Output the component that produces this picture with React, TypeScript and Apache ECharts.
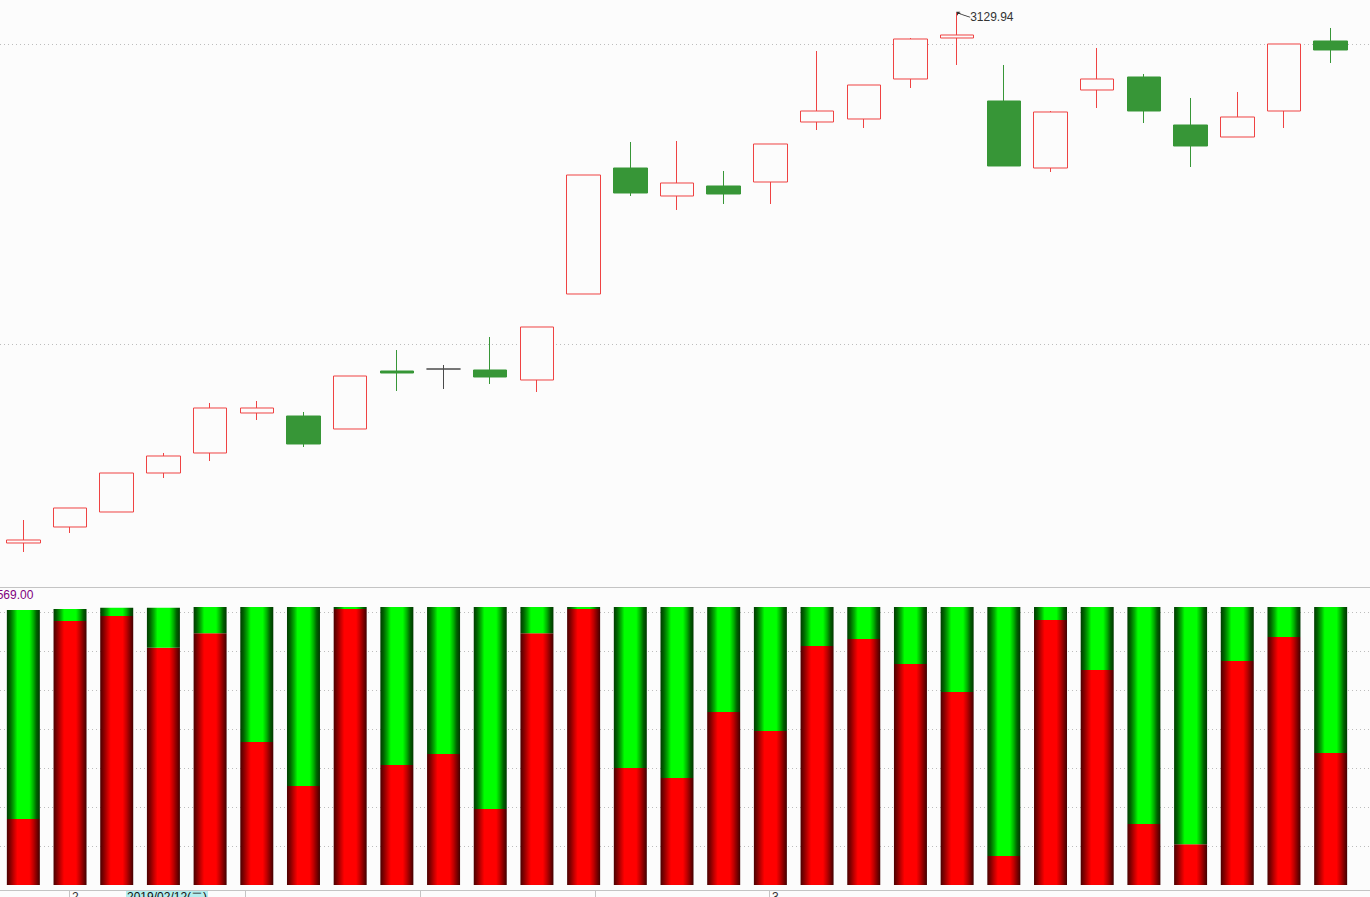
import React, { useEffect, useRef } from 'react';
import * as echarts from 'echarts';

const dates = [
  '2019/01/31', '2019/02/01', '2019/02/11', '2019/02/12', '2019/02/13', '2019/02/14', '2019/02/15',
  '2019/02/18', '2019/02/19', '2019/02/20', '2019/02/21', '2019/02/22', '2019/02/25', '2019/02/26',
  '2019/02/27', '2019/02/28', '2019/03/01', '2019/03/04', '2019/03/05', '2019/03/06', '2019/03/07',
  '2019/03/08', '2019/03/11', '2019/03/12', '2019/03/13', '2019/03/14', '2019/03/15', '2019/03/18',
  '2019/03/19',
];
const opens = [
  2581.47, 2598.02, 2613.53, 2653.86, 2674.55, 2715.92, 2712.81, 2699.37, 2759.35, 2761.42,
  2760.39, 2750.05, 2838.99, 2969.30, 2940.35, 2950.69, 2954.82, 3016.88, 3019.98, 3061.35,
  3103.75, 3038.60, 2969.30, 3049.97, 3063.42, 3013.78, 3001.36, 3028.25, 3100.65,
];
const closes = [
  2584.57, 2617.67, 2653.86, 2671.45, 2721.09, 2721.09, 2683.86, 2754.18, 2757.29, 2761.42,
  2753.15, 2804.86, 2962.06, 2943.45, 2953.79, 2942.41, 2994.13, 3028.25, 3055.14, 3102.72,
  3106.86, 2971.37, 3027.22, 3061.35, 3028.25, 2992.06, 3022.05, 3097.55, 3091.34,
];
const lows = [
  2572.16, 2591.81, 2613.53, 2648.69, 2666.27, 2708.68, 2680.75, 2699.37, 2738.67, 2740.74,
  2745.91, 2737.64, 2838.99, 2940.35, 2925.88, 2932.07, 2932.07, 3008.60, 3010.67, 3052.04,
  3075.83, 2971.37, 2965.17, 3031.36, 3015.84, 2970.34, 3001.36, 3010.67, 3077.90,
];
const highs = [
  2605.25, 2617.67, 2653.86, 2674.55, 2726.26, 2728.33, 2716.95, 2754.18, 2781.07, 2765.56,
  2794.52, 2804.86, 2962.06, 2996.19, 2997.23, 2966.20, 2994.13, 3090.31, 3055.14, 3103.75,
  3129.94, 3075.83, 3028.25, 3093.41, 3066.52, 3041.70, 3047.91, 3097.55, 3114.10,
];
// lower panel: share of red (bottom) and green (top) per day, in %
const redShare = [
  23.7, 95.0, 96.8, 85.3, 90.6, 51.4, 35.6, 99.3, 43.2, 47.1, 27.3, 90.6, 99.3, 42.1, 38.5,
  62.2, 55.4, 86.0, 88.5, 79.5, 69.4, 10.4, 95.3, 77.3, 21.9, 14.7, 80.6, 89.2, 47.5,
];
const greenShare = [
  75.2, 4.3, 2.9, 14.4, 9.4, 48.6, 64.4, 0.7, 56.8, 52.9, 72.7, 9.4, 0.7, 57.9, 61.5,
  37.8, 44.6, 14.0, 11.5, 20.5, 30.6, 89.6, 4.7, 22.7, 78.1, 85.3, 19.4, 10.8, 52.5,
];
const priceGridLevels = [3097.55, 2787.28];
const priceMin = 2535.96;
const priceMax = 3143.05;
const highestIndex = 20;
const highestValue = 3129.94;
const lowerPanelLabel = '2569.00';
const monthLabels = ['2', '3'];
const cursorLabel = '2019/02/12(二)';

export default function App() {
  const ref = useRef<HTMLDivElement>(null);
  useEffect(() => {
    const chart = echarts.init(ref.current!, null, { renderer: 'svg' });
    const redGrad = new echarts.graphic.LinearGradient(0, 0, 1, 0, [
      { offset: 0, color: '#4a0000' },
      { offset: 0.1, color: '#800000' },
      { offset: 0.22, color: '#c80000' },
      { offset: 0.32, color: '#ff0000' },
      { offset: 0.68, color: '#ff0000' },
      { offset: 0.8, color: '#c00000' },
      { offset: 0.9, color: '#800000' },
      { offset: 1, color: '#420000' },
    ]);
    const greenGrad = new echarts.graphic.LinearGradient(0, 0, 1, 0, [
      { offset: 0, color: '#003c00' },
      { offset: 0.1, color: '#006400' },
      { offset: 0.22, color: '#00b000' },
      { offset: 0.32, color: '#00ff00' },
      { offset: 0.68, color: '#00ff00' },
      { offset: 0.8, color: '#00b000' },
      { offset: 0.9, color: '#006000' },
      { offset: 1, color: '#003800' },
    ]);
    const ohlc = dates.map((_, i) => [opens[i], closes[i], lows[i], highs[i]]);
    const grey = '#c4c4c4';
    const dotted = { type: [1, 3] as any, color: '#bdbdbd', width: 1 };
    const option: any = {
      animation: false,
      backgroundColor: '#fcfcfc',
      grid: [
        { left: 0, width: 1354, top: 0, height: 587 },
        { left: 0, width: 1354, top: 607, height: 278 },
        { left: 0, right: 0, top: 0, height: 587 },
        { left: 0, right: 0, top: 607, height: 278 },
      ],
      xAxis: [
        { type: 'category', gridIndex: 0, data: dates, show: false },
        { type: 'category', gridIndex: 1, data: dates, show: false },
        {
          type: 'value', gridIndex: 2, min: 0, max: 1370,
          axisLine: { show: true, onZero: false, lineStyle: { color: grey } },
          axisTick: { show: false }, axisLabel: { show: false }, splitLine: { show: false },
        },
        {
          type: 'value', gridIndex: 3, min: 0, max: 1370, offset: 5,
          axisLine: { show: true, onZero: false, lineStyle: { color: grey } },
          axisTick: { show: true, length: 7, customValues: [69, 245, 420, 595, 769], lineStyle: { color: grey } },
          axisLabel: { show: false }, splitLine: { show: false },
        },
      ],
      yAxis: [
        { type: 'value', gridIndex: 0, min: priceMin, max: priceMax, show: false },
        { type: 'value', gridIndex: 1, min: 0, max: 100, show: false },
        { type: 'value', gridIndex: 2, min: priceMin, max: priceMax, show: false },
        {
          type: 'value', gridIndex: 3, min: 0, max: 100, interval: 14.03,
          axisLine: { show: false }, axisTick: { show: false }, axisLabel: { show: false },
          splitLine: { show: true, showMinLine: false, showMaxLine: false, lineStyle: dotted },
        },
      ],
      series: [
        {
          type: 'line', xAxisIndex: 2, yAxisIndex: 2, data: [], silent: true, z: 0, zlevel: 0,
          markLine: {
            silent: true, symbol: ['none', 'none'], label: { show: false }, z: 0,
            lineStyle: dotted,
            data: priceGridLevels.map((v) => ({ yAxis: v })),
          },
        },
        {
          type: 'candlestick', xAxisIndex: 0, yAxisIndex: 0, data: ohlc, barWidth: 34, z: 5,
          itemStyle: {
            color: '#fcfcfc', color0: '#379637',
            borderColor: '#ef4343', borderColor0: '#379637', borderColorDoji: '#4a4a4a',
            borderWidth: 1,
          },
          markPoint: {
            silent: true,
            symbol: 'path://M0,3 L0,0 L3,0 M0,0 L4,2 L13,5',
            symbolSize: [13, 5],
            symbolOffset: [6.5, 2],
            symbolKeepAspect: false,
            itemStyle: { color: 'none', borderColor: '#333', borderWidth: 1 },
            label: {
              show: true, position: 'right', distance: 0, offset: [-4, 2],
              formatter: () => highestValue.toFixed(2),
              color: '#333', fontSize: 12, fontFamily: 'Liberation Sans',
            },
            data: [{ coord: [highestIndex, highestValue] }],
          },
        },
        {
          type: 'bar', xAxisIndex: 1, yAxisIndex: 1, stack: 'share', data: redShare, barWidth: 33,
          itemStyle: { color: redGrad },
        },
        {
          type: 'bar', xAxisIndex: 1, yAxisIndex: 1, stack: 'share', data: greenShare, barWidth: 33,
          itemStyle: { color: greenGrad },
        },
      ],
      graphic: [
        {
          type: 'text', x: -10, y: 589,
          style: { text: lowerPanelLabel, fill: '#800080', font: '12px "Liberation Sans"', verticalAlign: 'top' },
        },
        {
          type: 'text', x: 72, y: 891,
          style: { text: monthLabels[0], fill: '#333', font: '12px "Liberation Sans"', verticalAlign: 'top' },
        },
        {
          type: 'text', x: 772, y: 891,
          style: { text: monthLabels[1], fill: '#333', font: '12px "Liberation Sans"', verticalAlign: 'top' },
        },
        {
          type: 'text', x: 126, y: 890,
          style: {
            text: cursorLabel, fill: '#111', font: '12px "Liberation Sans"', verticalAlign: 'top',
            backgroundColor: '#b4eeee', padding: [1, 1, 1, 1],
          },
        },
      ],
    };
    chart.setOption(option);
    return () => chart.dispose();
  }, []);
  return <div ref={ref} style={{ position: 'absolute', left: 0, top: 0, width: 1370, height: 897 }} />;
}
